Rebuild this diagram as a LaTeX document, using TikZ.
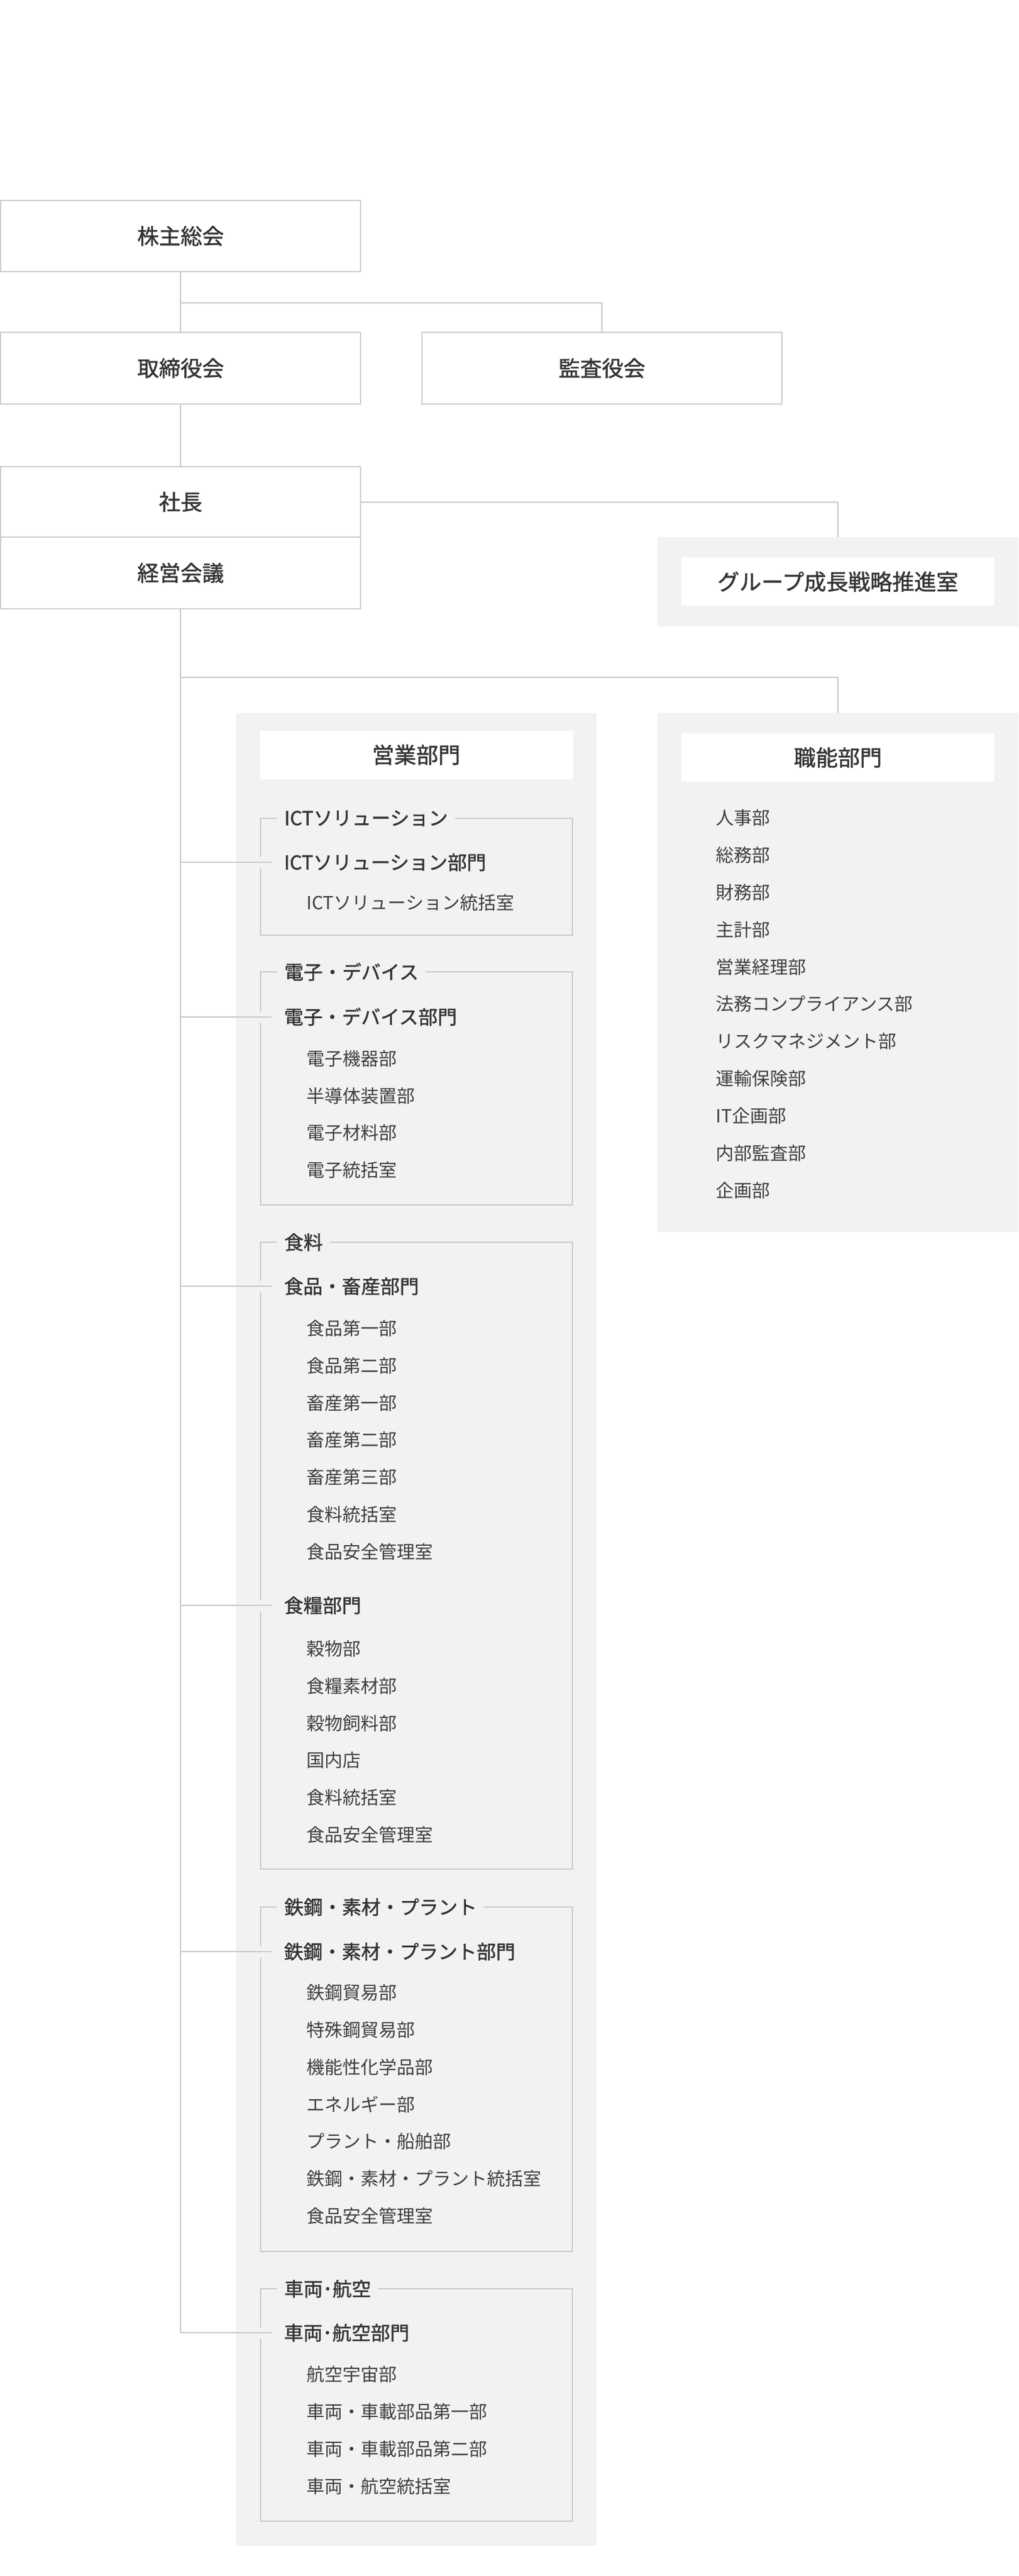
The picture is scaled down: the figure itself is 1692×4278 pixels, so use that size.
\documentclass[tikz,border=0pt]{standalone}
\usepackage{fontspec}
\setmainfont{Noto Sans CJK JP}
\newfontfamily\medfont{Noto Sans CJK JP}[FakeBold=1.3]
\definecolor{linec}{HTML}{C8C8C8}
\definecolor{boxc}{HTML}{CCCCCC}
\definecolor{panelc}{HTML}{F2F2F2}
\definecolor{txt}{HTML}{333333}
\definecolor{itxt}{HTML}{3E3E3E}
\tikzset{
 conn/.style={draw=linec, line width=1pt},
 topbox/.style={draw=boxc, line width=1pt, fill=white, minimum width=299pt, inner sep=0pt, text=txt, font=\medfont\fontsize{18pt}{21pt}\selectfont},
 panel/.style={fill=panelc, inner sep=0pt},
 headbox/.style={fill=white, minimum width=260pt, minimum height=40pt, inner sep=0pt, text=txt, font=\medfont\fontsize{18.3pt}{21pt}\selectfont},
 frame/.style={draw=linec, line width=1pt},
 gtitle/.style={fill=panelc, anchor=west, inner xsep=6pt, inner ysep=2pt, text=txt, font=\medfont\fontsize{16pt}{19pt}\selectfont},
 dhead/.style={anchor=west, inner sep=0pt, outer xsep=10.5pt, text=txt, font=\medfont\fontsize{16pt}{19pt}\selectfont},
 item/.style={anchor=west, inner sep=0pt, text=itxt, font=\fontsize{15pt}{18pt}\selectfont},
 gap/.style={draw=panelc, line width=3pt},
}
\begin{document}
\begin{tikzpicture}[x=0.5pt,y=-0.5pt]
\useasboundingbox (0,0) rectangle (1692,4278);
% top boxes
\node[topbox, minimum height=59pt] (kabu) at (300,392) {株主総会};
\node[topbox, minimum height=59.5pt] (tori) at (300,611.5) {取締役会};
\node[topbox, minimum height=59.5pt] (kansa) at (1000,611.5) {監査役会};
\node[topbox, minimum height=58.5pt] (shacho) at (300,833.5) {社長};
\node[topbox, minimum height=59.5pt] (keiei) at (300,951.5) {経営会議};
% group strategy
\node[panel, minimum width=300pt, minimum height=74pt] (grp) at (1392,966) {};
\node[headbox] (grph) at (1392,966) {グループ成長戦略推進室};
% panels
\node[panel, minimum width=299.5pt, minimum height=1522pt] (eigyo) at (691.5,2706) {};
\node[headbox] (eigyoh) at (691.5,1253.5) {営業部門};
\node[panel, minimum width=300pt, minimum height=431pt] (shoku) at (1392,1615) {};
\node[headbox] (shokuh) at (1392,1258) {職能部門};
% functional items
\foreach \t [count=\i from 0] in {人事部,総務部,財務部,主計部,営業経理部,法務コンプライアンス部,リスクマネジメント部,運輸保険部,IT企画部,内部監査部,企画部}
  \node[item] (f\i) at (1189,{1358+61.9*\i}) {\t};
% frames
\draw[frame] (433,1359) rectangle (951,1553);
\draw[frame] (433,1614) rectangle (951,2001);
\draw[frame] (433,2063) rectangle (951,3104);
\draw[frame] (433,3167) rectangle (951,3739);
\draw[frame] (433,3801) rectangle (951,4187);
% gaps in left frame edges at headings
\foreach \y in {1432,1688.5,2136,2666,3241,3874}
  \draw[gap] (433,{\y-9}) -- (433,{\y+10});
% group titles
\node[gtitle] (g1) at (460,1359) {ICTソリューション};
\node[gtitle] (g2) at (460,1614) {電子・デバイス};
\node[gtitle] (g3) at (460,2063) {食料};
\node[gtitle] (g4) at (460,3167) {鉄鋼・素材・プラント};
\node[gtitle] (g5) at (460,3801) {車両･航空};
% division headings
\node[dhead] (h1) at (451,1432) {ICTソリューション部門};
\node[dhead] (h2) at (451,1688.5) {電子・デバイス部門};
\node[dhead] (h3) at (451,2136) {食品・畜産部門};
\node[dhead] (h4) at (451,2666) {食糧部門};
\node[dhead] (h5) at (451,3241) {鉄鋼・素材・プラント部門};
\node[dhead] (h6) at (451,3874) {車両･航空部門};
% items
\node[item] (i11) at (509,1499) {ICTソリューション統括室};
\foreach \t [count=\i from 0] in {電子機器部,半導体装置部,電子材料部,電子統括室}
  \node[item] (i2\i) at (509,{1758+61.7*\i}) {\t};
\foreach \t [count=\i from 0] in {食品第一部,食品第二部,畜産第一部,畜産第二部,畜産第三部,食料統括室,食品安全管理室}
  \node[item] (i3\i) at (509,{2206+61.8*\i}) {\t};
\foreach \t [count=\i from 0] in {穀物部,食糧素材部,穀物飼料部,国内店,食料統括室,食品安全管理室}
  \node[item] (i4\i) at (509,{2738+61.8*\i}) {\t};
\foreach \t [count=\i from 0] in {鉄鋼貿易部,特殊鋼貿易部,機能性化学品部,エネルギー部,プラント・船舶部,鉄鋼・素材・プラント統括室,食品安全管理室}
  \node[item] (i5\i) at (509,{3309+61.8*\i}) {\t};
\foreach \t [count=\i from 0] in {航空宇宙部,車両・車載部品第一部,車両・車載部品第二部,車両・航空統括室}
  \node[item] (i6\i) at (509,{3943+62*\i}) {\t};
% connectors
\coordinate (j1) at (0,503);
\coordinate (j2) at (0,1125);
\draw[conn] (kabu.south) -- (tori.north);
\draw[conn] (kabu.south |- j1) -| (kansa.north);
\draw[conn] (tori.south) -- (shacho.north);
\draw[conn] (shacho.east) -| (grp.north);
\draw[conn] (keiei.south) |- (h6.west);
\draw[conn] (keiei.south |- j2) -| (shoku.north);
\foreach \h in {h1,h2,h3,h4,h5}
  \draw[conn] (keiei.south |- \h.west) -- (\h.west);
\end{tikzpicture}
\end{document}
